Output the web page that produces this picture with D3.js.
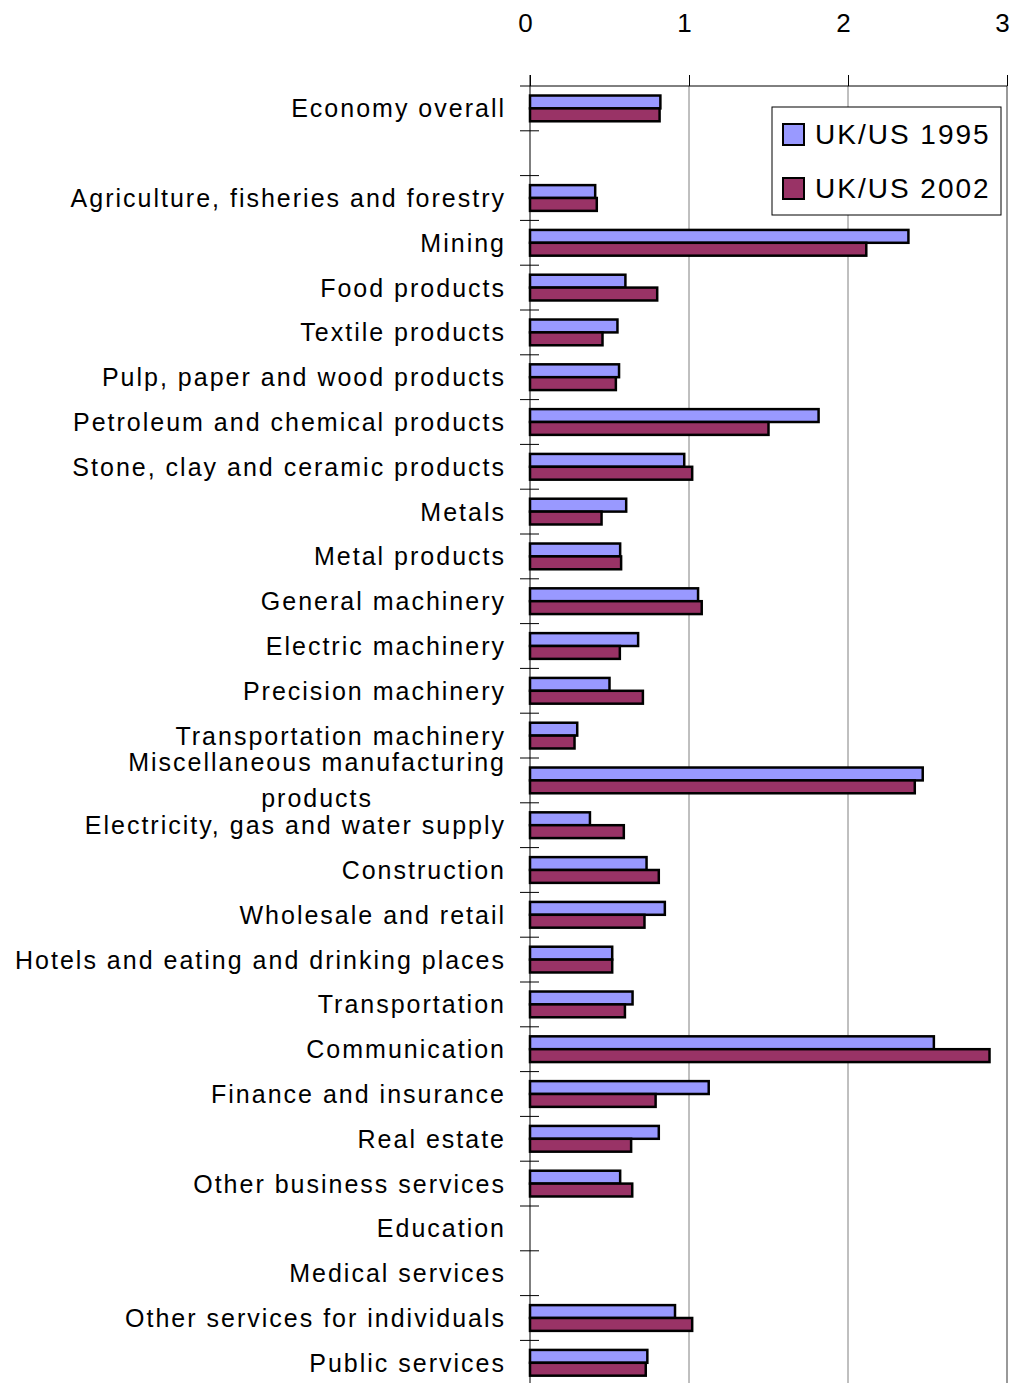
<!DOCTYPE html>
<html lang="en">
<head>
    <meta charset="UTF-8">
    <title>UK/US ratio by industry</title>
    <script src="https://cdn.jsdelivr.net/npm/d3@7"></script>
    <style>
        body {
            margin: 0;
            padding: 0;
            background: #fff;
            font-family: "Liberation Sans", Arial, sans-serif;
        }
        .cat-label {
            font-size: 25px;
            letter-spacing: 2px;
            fill: #000;
        }
        .tick-label {
            font-size: 26px;
        }
        .legend-text {
            font-size: 28px;
            letter-spacing: 2px;
        }
    </style>
</head>
<body>
    <svg width="1011" height="1383"></svg>
    <script>
        // categories, top to bottom ("" is the empty spacer row)
        const categories = [
            "Economy overall", "", "Agriculture, fisheries and forestry", "Mining",
            "Food products", "Textile products", "Pulp, paper and wood products",
            "Petroleum and chemical products", "Stone, clay and ceramic products",
            "Metals", "Metal products", "General machinery", "Electric machinery",
            "Precision machinery", "Transportation machinery",
            "Miscellaneous manufacturing products", "Electricity, gas and water supply",
            "Construction", "Wholesale and retail", "Hotels and eating and drinking places",
            "Transportation", "Communication", "Finance and insurance", "Real estate",
            "Other business services", "Education", "Medical services",
            "Other services for individuals", "Public services"
        ];

        const series = ["UK/US 1995", "UK/US 2002"];

        const uk1995 = [0.82, null, 0.41, 2.38, 0.60, 0.55, 0.56, 1.815, 0.97, 0.605,
            0.567, 1.057, 0.68, 0.50, 0.297, 2.47, 0.377, 0.733, 0.848, 0.517,
            0.645, 2.54, 1.124, 0.81, 0.567, null, null, 0.912, 0.738];

        const uk2002 = [0.815, null, 0.42, 2.115, 0.80, 0.456, 0.54, 1.50, 1.02, 0.45,
            0.573, 1.08, 0.565, 0.71, 0.28, 2.42, 0.59, 0.81, 0.72, 0.517,
            0.597, 2.89, 0.79, 0.636, 0.643, null, null, 1.02, 0.728];

        const xTicks = [0, 1, 2, 3];

        const colors = ["#9999FF", "#993366"];

        // multi-line labels as they wrap in the original
        const wrapped = {
            "Miscellaneous manufacturing products": ["Miscellaneous manufacturing", "products"]
        };

        const svg = d3.select("svg");

        const plotLeft = 530, plotRight = 1007, plotTop = 86;
        const step = 44.8;

        const x = d3.scaleLinear().domain([0, 3]).range([plotLeft, plotRight]);

        const y = d3.scaleBand()
            .domain(categories)
            .range([plotTop, plotTop + step * categories.length])
            .padding(0);

        const ySub = d3.scaleBand()
            .domain(series)
            .range([0, y.bandwidth()])
            .paddingInner(0)
            .paddingOuter(0.74);

        // gridlines
        svg.append("g")
            .selectAll("line")
            .data(xTicks.slice(1))
            .enter().append("line")
            .attr("x1", d => x(d))
            .attr("x2", d => x(d))
            .attr("y1", plotTop)
            .attr("y2", 1383)
            .attr("stroke", (d, i) => i == 2 ? "#999" : "#808080")
            .attr("stroke-width", (d, i) => i == 2 ? 2 : 1);

        // top axis
        const xAxis = svg.append("g")
            .attr("transform", `translate(0,${plotTop})`)
            .call(d3.axisTop(x).tickValues(xTicks).tickFormat(d3.format("d"))
                .tickSize(11).tickSizeOuter(0).tickPadding(43));
        xAxis.select(".domain").remove();
        xAxis.selectAll(".tick line").attr("stroke", "#000");
        xAxis.selectAll(".tick text")
            .attr("class", "tick-label")
            .attr("dx", -5)
            .attr("fill", "#000")
            .style("font-family", "'Liberation Sans', Arial, sans-serif");

        svg.append("line")
            .attr("x1", 520).attr("x2", plotRight)
            .attr("y1", plotTop).attr("y2", plotTop)
            .attr("stroke", "#000");

        // bars
        const data = categories.map((c, i) => ({ cat: c, vals: [uk1995[i], uk2002[i]] }));

        const groups = svg.append("g")
            .selectAll("g")
            .data(data)
            .enter().append("g")
            .attr("transform", d => `translate(0,${y(d.cat)})`);

        groups.selectAll("rect")
            .data(d => d.vals.map((v, j) => ({ key: series[j], value: v, j: j })).filter(e => e.value != null))
            .enter().append("rect")
            .attr("x", x(0))
            .attr("y", d => ySub(d.key))
            .attr("width", d => x(d.value) - x(0))
            .attr("height", ySub.bandwidth())
            .attr("fill", d => colors[d.j])
            .attr("stroke", "#000")
            .attr("stroke-width", 2.5);

        // left axis with crossing ticks at band edges
        svg.append("line")
            .attr("x1", plotLeft).attr("x2", plotLeft)
            .attr("y1", 75).attr("y2", 1383)
            .attr("stroke", "#000");

        svg.append("g")
            .selectAll("line")
            .data(categories.slice(1))
            .enter().append("line")
            .attr("x1", 520).attr("x2", 539)
            .attr("y1", d => y(d)).attr("y2", d => y(d))
            .attr("stroke", "#000");

        // category labels
        const labelX = 506;
        const labels = svg.append("g")
            .selectAll("text")
            .data(categories.filter(c => c != ""))
            .enter().append("text")
            .attr("class", "cat-label")
            .attr("text-anchor", "end")
            .attr("x", labelX)
            .attr("y", d => y(d) + y.bandwidth() / 2 + 9);

        labels.each(function(d) {
            const t = d3.select(this);
            if (wrapped[d]) {
                const lines = wrapped[d];
                t.attr("y", null);
                const first = t.append("tspan")
                    .attr("x", labelX)
                    .attr("y", y(d) + y.bandwidth() / 2 + 9 - 18)
                    .text(lines[0]);
                const w = first.node().getComputedTextLength();
                t.append("tspan")
                    .attr("x", labelX - w / 2)
                    .attr("text-anchor", "middle")
                    .attr("y", y(d) + y.bandwidth() / 2 + 9 + 18)
                    .text(lines[1]);
            } else {
                t.text(d);
            }
        });

        // legend
        const legend = svg.append("g").attr("transform", "translate(772,107)");
        legend.append("rect")
            .attr("width", 229).attr("height", 108)
            .attr("fill", "#fff").attr("stroke", "#000");

        const item = legend.selectAll(".item")
            .data(series)
            .enter().append("g")
            .attr("transform", (d, i) => `translate(11,${17 + i * 54})`);

        item.append("rect")
            .attr("width", 21).attr("height", 21)
            .attr("fill", (d, i) => colors[i])
            .attr("stroke", "#000").attr("stroke-width", 2);

        item.append("text")
            .attr("class", "legend-text")
            .attr("x", 32).attr("y", 20)
            .text(d => d);
    </script>
</body>
</html>
